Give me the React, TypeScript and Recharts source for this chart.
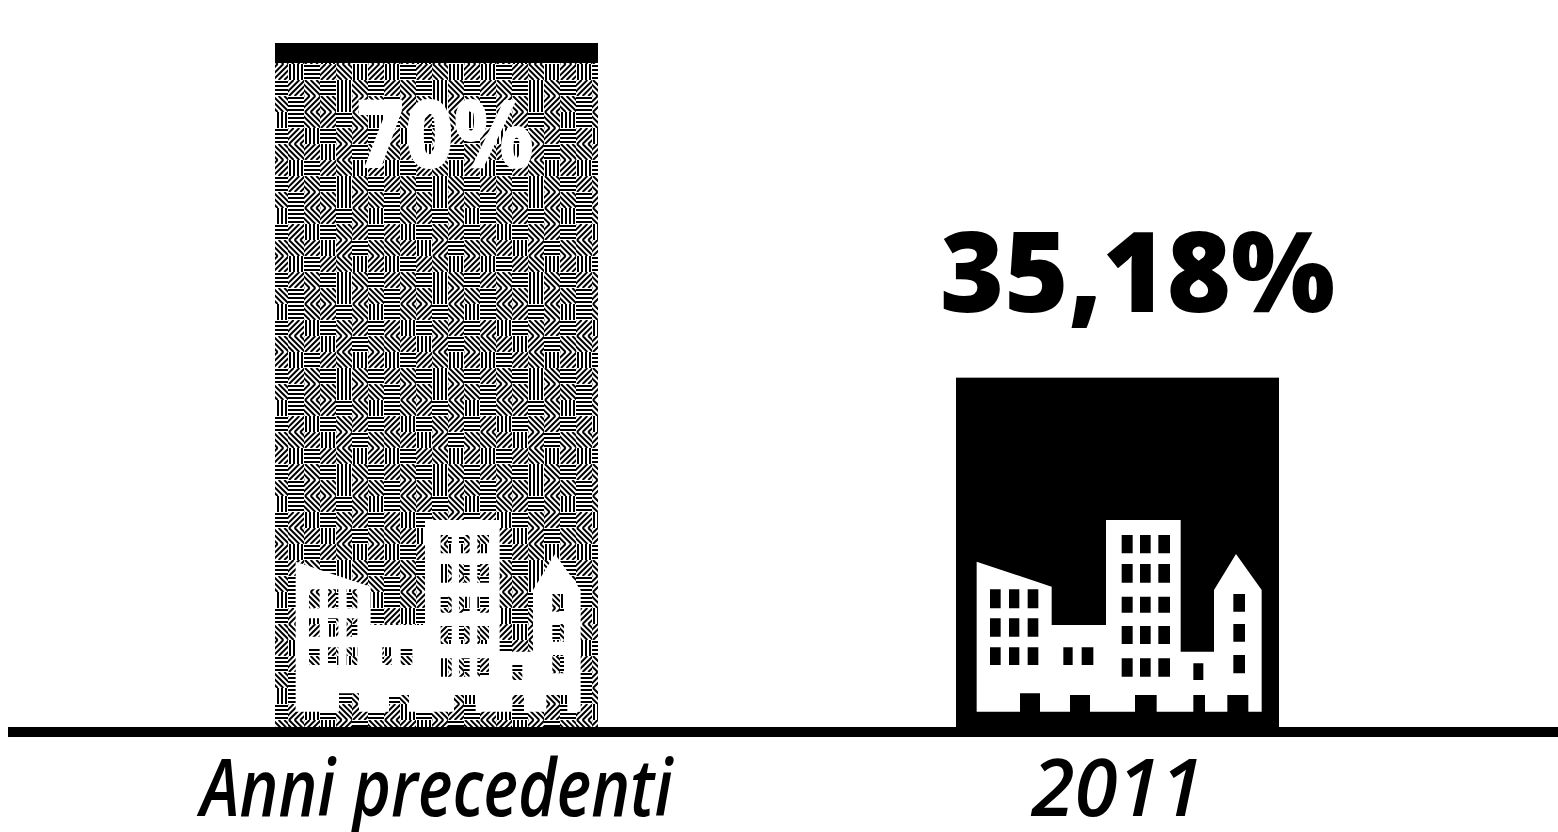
import { BarChart, Bar, XAxis, YAxis, LabelList } from "recharts";

const categories = ["Anni precedenti", "2011"];
// bar heights as measured on the picture; the printed figures are in barLabels
const barHeights = [70, 36];
const barLabels = ["70%", "35,18%"];

const data = categories.map((category, i) => ({
  category,
  height: barHeights[i],
  label: barLabels[i],
}));

const barFills = ["url(#maze)", "#000"];
const capHeights = [20, 0];
const tickLengths = [472, 172];

// city icon, drawn at 3x with the origin 16px left of the bar and 232px above its foot
const skyline =
  "M110 635V185L335 260V375H498V60H722V455H822V270L888 162L965 270V635H925V585H862V635H795V585H760V635H650V585H585V635H450V585H390V635H300V580H240V635Z";

const rect = (x0: number, x1: number, y0: number, y1: number) =>
  `M${x0} ${y0}H${x1}V${y1}H${x0}Z`;

const windowRects = [
  ...[[150, 182], [207, 238], [263, 295]].flatMap(([a, b]) =>
    [[268, 325], [355, 410], [442, 495]].map(([c, d]) => rect(a, b, c, d))
  ),
  rect(370, 398, 442, 495),
  rect(425, 460, 442, 495),
  ...[[545, 578], [600, 632], [655, 690]].flatMap(([a, b]) =>
    [[105, 160], [192, 248], [290, 338], [378, 432], [475, 530]].map(([c, d]) => rect(a, b, c, d))
  ),
  rect(760, 790, 490, 540),
  ...[[282, 335], [372, 425], [465, 520]].map(([c, d]) => rect(880, 915, c, d)),
].join("");

// hatch direction of each cell in the dither tile: h, v, / or \
const ditherCells = [
  "h/\\v/\\",
  "h\\/h\\v",
  "/vh\\/h",
  "\\/v/h\\",
  "vh/\\v/",
  "/\\hv\\h",
];
const CELL = 16;

const hatchPath = (kind: string) => {
  let d = "";
  if (kind === "h") for (let i = 2; i < CELL; i += 4) d += `M0 ${i}H${CELL}`;
  if (kind === "v") for (let i = 2; i < CELL; i += 4) d += `M${i} 0V${CELL}`;
  if (kind === "/") for (let i = -CELL; i < CELL * 2; i += 5.66) d += `M${i} ${CELL}L${i + CELL} 0`;
  if (kind === "\\") for (let i = -CELL; i < CELL * 2; i += 5.66) d += `M${i} 0L${i + CELL} ${CELL}`;
  return d;
};

const CityBar = (props: any) => {
  const { x, y, width, height, index } = props;
  return (
    <g>
      <rect x={x} y={y} width={width} height={height} fill={barFills[index]} />
      {capHeights[index] > 0 && (
        <rect x={x} y={y} width={width} height={capHeights[index]} fill="#000" />
      )}
      <g transform={`translate(${x - 16} ${y + height - 232}) scale(${1 / 3})`}>
        <path d={skyline + windowRects} fill="#fff" fillRule="evenodd" />
      </g>
    </g>
  );
};

const ValueLabel = (props: any) => {
  const { x, y, width, index } = props;
  const cx = x + width / 2;
  if (index === 0) {
    return (
      <text x={cx + 8} y={y + 125} textAnchor="middle" fill="#fff" fontSize={96}
        fontWeight={800} fontFamily="'Open Sans'" textLength={178} lengthAdjust="spacingAndGlyphs">
        {barLabels[0]}
      </text>
    );
  }
  return (
    <text x={cx + 20} y={y - 66} textAnchor="middle" fill="#000" fontSize={112}
      fontWeight={800} fontFamily="'Open Sans'" textLength={395} lengthAdjust="spacingAndGlyphs">
      {barLabels[1]}
    </text>
  );
};

const CategoryTick = (props: any) => {
  const { x, y, payload, index } = props;
  return (
    <text x={x} y={y + 76} textAnchor="middle" fill="#000" fontSize={80} fontWeight={600}
      fontStyle="italic" fontFamily="'Open Sans'"
      textLength={tickLengths[index]} lengthAdjust="spacingAndGlyphs">
      {payload.value}
    </text>
  );
};

export default function App() {
  return (
    <div style={{ position: "absolute", left: 0, top: 0, width: 1558, height: 832 }}>
      <BarChart width={1558} height={832} data={data} barSize={323}
        margin={{ top: 43, right: 0, bottom: 0, left: 8 }}>
        <defs>
          <pattern id="maze" width={CELL * 6} height={CELL * 6} patternUnits="userSpaceOnUse">
            <rect width={CELL * 6} height={CELL * 6} fill="#fff" />
            {ditherCells.flatMap((row, r) =>
              row.split("").map((kind, c) => (
                <svg key={`${r}-${c}`} x={c * CELL} y={r * CELL} width={CELL} height={CELL}>
                  <path d={hatchPath(kind)} stroke="#000" strokeWidth="2" fill="none" />
                </svg>
              ))
            )}
          </pattern>
        </defs>
        <XAxis dataKey="category" interval={0} height={100} padding={{ left: 88, right: 100 }}
          axisLine={{ stroke: "#000", strokeWidth: 10 }} tickLine={false} tick={<CategoryTick />} />
        <YAxis hide domain={[0, 70]} />
        <Bar dataKey="height" isAnimationActive={false} shape={<CityBar />}>
          <LabelList dataKey="label" content={<ValueLabel />} />
        </Bar>
      </BarChart>
    </div>
  );
}
